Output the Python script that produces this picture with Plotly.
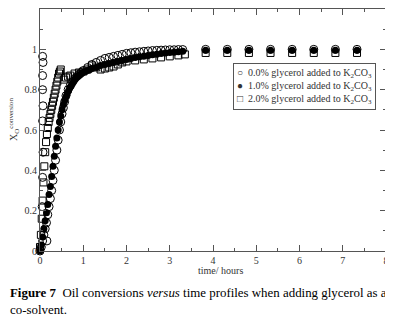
import plotly.graph_objects as go

# ---- data (hours, fractional conversion) ----
t_0 = [0.00, 0.03, 0.06, 0.09, 0.12, 0.15, 0.18, 0.21, 0.24, 0.27, 0.30, 0.33, 0.36, 0.39,
       0.42, 0.45, 0.48, 0.51, 0.54, 0.57, 0.60, 0.65, 0.70, 0.75, 0.80, 0.85, 0.90, 0.95,
       1.00, 1.10, 1.20, 1.30, 1.40, 1.50, 1.60, 1.70, 1.80, 1.90, 2.00, 2.10, 2.20, 2.30,
       2.40, 2.50, 2.60, 2.70, 2.80, 2.90, 3.00, 3.10, 3.20, 3.30,
       3.83, 4.33, 4.83, 5.33, 5.83, 6.33, 6.83, 7.33]
y_0 = [0.00, 0.02, 0.05, 0.08, 0.11, 0.14, 0.18, 0.22, 0.26, 0.30, 0.35, 0.40, 0.45, 0.50,
       0.55, 0.60, 0.64, 0.68, 0.71, 0.74, 0.77, 0.80, 0.82, 0.84, 0.855, 0.865, 0.875, 0.885,
       0.895, 0.91, 0.925, 0.935, 0.945, 0.955, 0.96, 0.965, 0.97, 0.975, 0.98, 0.983, 0.986, 0.988,
       0.99, 0.992, 0.994, 0.995, 0.996, 0.997, 0.998, 0.998, 0.999, 0.999,
       1.0, 1.0, 1.0, 1.0, 1.0, 1.0, 1.0, 1.0]
# early scattered readings of the 0.0% run
t_0_early = [0.16, 0.05, 0.06, 0.07, 0.06, 0.07, 0.06, 0.06, 0.07, 0.06]
y_0_early = [0.05, 0.22, 0.365, 0.49, 0.645, 0.72, 0.80, 0.87, 0.935, 0.965]

t_1 = [0.00, 0.03, 0.06, 0.09, 0.12, 0.15, 0.18, 0.21, 0.24, 0.27, 0.30, 0.33, 0.36, 0.39,
       0.42, 0.45, 0.48, 0.51, 0.54, 0.57, 0.60, 0.63, 0.66, 0.69, 0.72, 0.75, 0.78, 0.81,
       0.84, 0.87, 0.90, 0.93, 0.96, 0.99, 1.05, 1.10, 1.15, 1.20, 1.30, 1.40, 1.50, 1.60,
       1.70, 1.80, 1.90, 2.00, 2.10, 2.20, 2.30, 2.40, 2.50, 2.60, 2.70, 2.80, 2.90, 3.00,
       3.10, 3.20, 3.30,
       3.83, 4.33, 4.83, 5.33, 5.83, 6.33, 6.83, 7.33]
y_1 = [0.00, 0.03, 0.07, 0.11, 0.15, 0.19, 0.23, 0.28, 0.32, 0.37, 0.42, 0.47, 0.52, 0.56,
       0.60, 0.64, 0.67, 0.70, 0.725, 0.745, 0.765, 0.78, 0.795, 0.81, 0.82, 0.83, 0.84, 0.85,
       0.86, 0.865, 0.87, 0.875, 0.88, 0.885, 0.89, 0.895, 0.90, 0.905, 0.91, 0.92, 0.925, 0.93,
       0.935, 0.94, 0.945, 0.95, 0.955, 0.96, 0.963, 0.966, 0.97, 0.973, 0.976, 0.979, 0.982, 0.984,
       0.986, 0.988, 0.99,
       0.995, 0.995, 0.995, 0.995, 0.995, 0.995, 0.995, 0.995]

t_2 = [0.00, 0.02, 0.04, 0.06, 0.08, 0.10, 0.12, 0.14, 0.16, 0.18, 0.20, 0.22, 0.24, 0.26,
       0.28, 0.30, 0.32, 0.34, 0.36, 0.38, 0.40, 0.42, 0.44, 0.46, 0.48, 0.55, 0.60, 0.65,
       0.70, 0.80, 0.90, 1.00, 1.10, 1.20, 1.30, 1.40, 1.50, 1.60, 1.70, 1.80, 1.90, 2.00,
       2.20, 2.40, 2.60, 2.80, 3.00, 3.20, 3.35,
       3.83, 4.33, 4.83, 5.33, 5.83, 6.33, 6.83, 7.33]
y_2 = [0.02, 0.08, 0.16, 0.25, 0.34, 0.42, 0.49, 0.54, 0.58, 0.61, 0.64, 0.66, 0.68, 0.70,
       0.72, 0.74, 0.76, 0.78, 0.80, 0.82, 0.84, 0.86, 0.88, 0.89, 0.90, 0.85, 0.86, 0.865,
       0.87, 0.88, 0.885, 0.89, 0.90, 0.92, 0.91, 0.90, 0.905, 0.91, 0.915, 0.925, 0.935, 0.94,
       0.945, 0.95, 0.955, 0.96, 0.965, 0.97, 0.975,
       0.982, 0.982, 0.982, 0.982, 0.982, 0.982, 0.982, 0.982]

names = ["0.0% glycerol added to K<sub>2</sub>CO<sub>3</sub>",
         "1.0% glycerol added to K<sub>2</sub>CO<sub>3</sub>",
         "2.0% glycerol added to K<sub>2</sub>CO<sub>3</sub>"]
legend_symbols = ["○", "●", "□"]

x_ticks = [0, 1, 2, 3, 4, 5, 6, 7, 8]
y_ticks = [0, 0.2, 0.4, 0.6, 0.8, 1.0]
y_tick_text = ["0", "0.2", "0.4", "0.6", "0.8", "1"]

x_title = "time/ hours"
y_title = "X<sub>O</sub><sup>conversion</sup>"
caption = ("<b>Figure 7</b>  Oil conversions <i>versus</i> time profiles when adding glycerol as a"
           "<br>co-solvent.")

SERIF = "Liberation Serif"
AX = "#555"

fig = go.Figure()
fig.add_trace(go.Scatter(
    x=t_0 + t_0_early, y=y_0 + y_0_early, mode="markers", name=names[0], cliponaxis=False,
    marker=dict(symbol="circle-open", size=8, color="black", line=dict(width=1, color="black"))))
fig.add_trace(go.Scatter(
    x=t_1, y=y_1, mode="markers", name=names[1], cliponaxis=False,
    marker=dict(symbol="circle", size=7, color="black", line=dict(width=0))))
fig.add_trace(go.Scatter(
    x=t_2, y=y_2, mode="markers", name=names[2], cliponaxis=False,
    marker=dict(symbol="square-open", size=7, color="black", line=dict(width=1, color="black"))))

axis_common = dict(showline=True, linecolor=AX, linewidth=1, mirror="ticks", automargin=False,
                   ticks="inside", tickcolor=AX, ticklen=6, showgrid=False, zeroline=False,
                   tickfont=dict(family=SERIF, size=10, color="#333"))

fig.update_xaxes(range=[0, 8], tickvals=x_ticks,
                 minor=dict(dtick=0.5, ticks="inside", ticklen=3, tickcolor=AX, showgrid=False),
                 **axis_common)
fig.update_yaxes(range=[0, 1.2], tickvals=y_ticks, ticktext=y_tick_text,
                 minor=dict(dtick=0.1, ticks="inside", ticklen=3, tickcolor=AX, showgrid=False),
                 **axis_common)

legend_text = "<br>".join(f"{s}  {n}" for s, n in zip(legend_symbols, names))

# page body adds an 8px offset, so the figure is 8px smaller than the window
fig.update_layout(
    width=385, height=308,
    margin=dict(l=32, r=7, t=1, b=65),
    paper_bgcolor="white", plot_bgcolor="white",
    showlegend=False,
    annotations=[
        dict(text=legend_text, xref="paper", yref="paper", x=191/342, y=188/242,
             xanchor="left", yanchor="top", align="left", showarrow=False,
             bgcolor="white", bordercolor=AX, borderwidth=1, borderpad=3,
             font=dict(family=SERIF, size=10, color="#333")),
        dict(text=x_title, xref="paper", yref="paper", x=180/346, y=-19/242,
             xanchor="center", yanchor="middle", showarrow=False,
             font=dict(family=SERIF, size=10, color="#333")),
        dict(text=y_title, xref="paper", yref="paper", x=-26/346, y=132/242, textangle=-90,
             xanchor="center", yanchor="middle", showarrow=False,
             font=dict(family=SERIF, size=10, color="#333")),
        dict(text=caption, xref="paper", yref="paper", x=-32/346, y=-33/242,
             xanchor="left", yanchor="top", align="left", showarrow=False,
             font=dict(family=SERIF, size=12.9, color="black")),
    ],
)

fig.write_html("out.html")
